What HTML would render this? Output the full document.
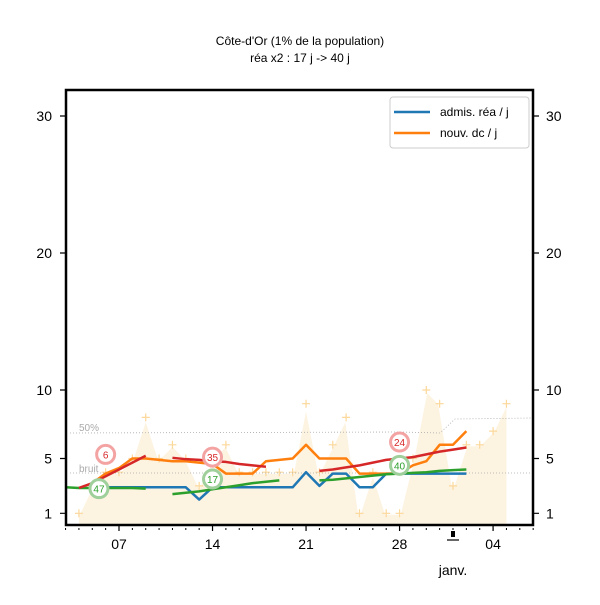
<!DOCTYPE html>
<html><head><meta charset="utf-8"><style>
body{margin:0;background:#fff;}
svg text{font-family:"Liberation Sans",sans-serif;}
</style></head><body>
<svg id="c" width="600" height="600" viewBox="0 0 600 600" xmlns="http://www.w3.org/2000/svg">
<rect width="600" height="600" fill="#fff"/>
<text x="300" y="45" text-anchor="middle" font-size="12">Côte-d'Or (1% de la population)</text>
<text x="300" y="62" text-anchor="middle" font-size="12">réa x2 : 17 j -&gt; 40 j</text>
<g id="plot"></g>
</svg>
<script>
// day index 0 = Dec 7
const crossDays = [-3,-2,-1,0,1,2,3,4,5,6,7,8,9,10,11,12,13,14,15,16,17,18,19,20,21,22,23,24,25,26,27,28,29];
const crossVals = [1,3,4,4,5,8,5,6,5,3,5,6,4,4,4,4,4,9,4,6,8,1,4,1,1,5,10,9,3,6,6,7,9];
const lineDays = [-4,-3,-2,-1,0,1,2,3,4,5,6,7,8,9,10,11,12,13,14,15,16,17,18,19,20,21,22,23,24,25,26];
const blueVals = [null,null,null,2.9,2.9,2.9,2.9,2.9,2.9,2.9,2.0,2.9,2.9,2.9,2.9,2.9,2.9,2.9,4.0,3.0,3.9,3.9,2.9,2.9,3.9,3.9,3.9,3.9,3.9,3.9,3.9];
const orangeVals = [null,null,3.2,3.9,4.3,5.0,5.0,4.9,4.8,4.8,4.7,4.6,3.9,3.9,3.9,4.8,4.9,5.0,6.0,5.0,5.0,5.0,3.9,3.9,3.9,3.9,4.5,4.8,6.0,6.0,7.0];
const greenVals = [2.9,2.85,2.85,2.85,2.85,2.85,2.8,null,2.4,2.5,2.6,2.75,2.9,3.05,3.2,3.3,3.4,null,null,3.4,3.45,3.55,3.65,3.75,3.85,3.9,3.95,4.0,4.1,4.15,4.2];
const redVals = [null,2.85,3.2,3.7,4.2,4.7,5.2,null,5.05,4.95,4.9,4.8,4.75,4.6,4.5,4.4,null,null,null,4.1,4.2,4.35,4.5,4.7,4.9,5.0,5.1,5.3,5.5,5.65,5.8];
const yTicks = [1,5,10,20,30];
const xTickDays = [0,7,14,21,28];
const xTickLabels = ["07","14","21","28","04"];
const annDays = [-1,7,21,-1.5,7,21];
const annVals = [5.3,5.1,6.2,2.8,3.5,4.5];
const annLabels = ["6","35","24","47","17","40"];
const annColors = ["red","red","red","green","green","green"];

const X = d => 119 + d*13.36;
const Y = v => 390 - (v-10)*13.7;
const g = document.getElementById('plot');
const NS = 'http://www.w3.org/2000/svg';
function mk(tag, attrs, parent){const e=document.createElementNS(NS,tag);for(const k in attrs)e.setAttribute(k,attrs[k]);(parent||g).appendChild(e);return e;}

let pts = crossDays.map((d,i)=>X(d)+','+Y(crossVals[i]));
let area = mk('polygon',{points:X(crossDays[0])+','+Y(0.2)+' '+pts.join(' ')+' '+X(crossDays[crossDays.length-1])+','+Y(0.2),fill:'#fdf3e1',stroke:'none'});


let al = mk('polyline',{points:pts.join(' '),fill:'none',stroke:'#fff',"stroke-width":3});


crossDays.forEach((d,i)=>{
  const c = mk('path',{d:`M${X(d)-4},${Y(crossVals[i])}h8M${X(d)},${Y(crossVals[i])-4}v8`,stroke:'#fcd89a','stroke-width':1.2});
  
  
});
let r1 = mk('path',{d:`M70,433 L400,432 L440,433 L455,419 L533,418`,stroke:'#aaa','stroke-width':0.8,'stroke-dasharray':'1,2',fill:'none'});


let r2 = mk('path',{d:`M70,473 L533,473`,stroke:'#aaa','stroke-width':0.8,'stroke-dasharray':'1,2',fill:'none'});


let t1 = mk('text',{x:79,y:431,'font-size':10,fill:'#aaa'}); t1.textContent='50%';


let t2 = mk('text',{x:79,y:472,'font-size':10,fill:'#aaa'}); t2.textContent='bruit';



function series(vals,color,name){
  let d='',pen=false;
  lineDays.forEach((day,i)=>{const v=vals[i];if(v==null){pen=false;return;}d+=(pen?'L':'M')+X(day)+','+Y(v);pen=true;});
  const p = mk('path',{d:d,stroke:color,'stroke-width':2.5,fill:'none','stroke-linejoin':'round'});
  
  
}
series(blueVals,'#1f77b4','admis-rea-line');
series(orangeVals,'#ff7f0e','nouv-dc-line');
series(greenVals,'#2ca02c','green-trend-line');
series(redVals,'#d62728','red-trend-line');

annDays.forEach((d,i)=>{
  const red = annColors[i]==='red';
  const c = mk('circle',{cx:X(d),cy:Y(annVals[i]),r:9,fill:'#fff',stroke:red?'#f4a3a3':'#9fcf9a','stroke-width':3});
  
  
  const t = mk('text',{x:X(d),y:Y(annVals[i])+4,'text-anchor':'middle','font-size':10,fill:red?'#d62728':'#2ca02c'});
  t.textContent = annLabels[i];
  
  
});

let fr = mk('rect',{x:66,y:90,width:467,height:435,fill:'none',stroke:'#000','stroke-width':2.5});


yTicks.forEach(v=>{
  mk('path',{d:`M60,${Y(v)}h6M533,${Y(v)}h6`,stroke:'#000','stroke-width':1.2});
  const a = mk('text',{x:52,y:Y(v)+5,'text-anchor':'end','font-size':14}); a.textContent=v;
  
  
  const b = mk('text',{x:546,y:Y(v)+5,'font-size':14}); b.textContent=v;
  
  
});
for(let d=-4;d<=31;d++){ mk('path',{d:`M${X(d)},528v2`,stroke:'#000','stroke-width':1}); }
xTickDays.forEach((d,i)=>{
  mk('path',{d:`M${X(d)},526v5`,stroke:'#000','stroke-width':1.2});
  const t = mk('text',{x:X(d),y:549,'text-anchor':'middle','font-size':14}); t.textContent=xTickLabels[i];
  
  
});
mk('rect',{x:X(25)-2,y:531,width:4,height:6,fill:'#000'});
mk('path',{d:`M${X(25)-6},540h12`,stroke:'#000','stroke-width':1.2});
let jt = mk('text',{x:X(25),y:575,'text-anchor':'middle','font-size':14}); jt.textContent='janv.';



const lg = mk('g',{});


mk('rect',{x:390,y:97,width:139,height:51,rx:3,fill:'#fff',stroke:'#ccc'},lg);
mk('path',{d:'M394,112h36',stroke:'#1f77b4','stroke-width':2.5},lg);
mk('path',{d:'M394,133h36',stroke:'#ff7f0e','stroke-width':2.5},lg);
let l1 = mk('text',{x:440,y:116,'font-size':12},lg); l1.textContent='admis. réa / j';


let l2 = mk('text',{x:440,y:137,'font-size':12},lg); l2.textContent='nouv. dc / j';


</script>
</body></html>
